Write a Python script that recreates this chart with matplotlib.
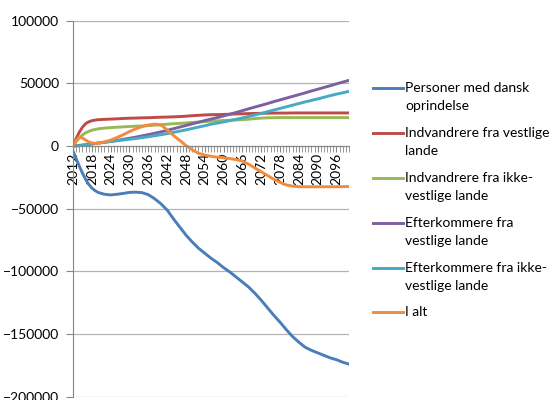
import matplotlib
matplotlib.use("Agg")
import matplotlib.pyplot as plt
from matplotlib.lines import Line2D
from matplotlib.ticker import MultipleLocator, FixedLocator

plt.rcParams['font.family'] = ['Lato', 'DejaVu Sans']

years = list(range(2012, 2021)) + list(range(2022, 2101, 2))

dansk = [-4000, -10000, -16000, -21500, -26500, -30500, -33500, -35500, -37000,
         -38500, -39000, -38500, -37800, -37000, -36800, -37200, -38800, -42000, -46000,
         -51000, -58000, -64500, -71000, -76500, -81500, -85500, -89500, -93000, -97000,
         -100500, -104500, -108500, -112500, -117500, -123000, -129000, -135000, -140500, -146500,
         -152000, -156500, -160500, -163000, -165000, -167000, -169000, -170500, -172500, -174000]

indv_vest = [0, 6000, 11000, 15000, 17800, 19300, 20200, 20700, 21000,
             21300, 21500, 21700, 22000, 22200, 22300, 22500, 22600, 22800, 23000,
             23100, 23300, 23500, 23800, 24200, 24500, 24800, 25000, 25100, 25200,
             25400, 25600, 25700, 25900, 26000, 26100, 26200, 26300, 26300, 26300,
             26400, 26400, 26400, 26400, 26400, 26400, 26400, 26400, 26400, 26400]

indv_ikke = [0, 3500, 6500, 8800, 10500, 11700, 12600, 13200, 13700,
             14300, 14700, 15000, 15300, 15600, 15800, 16000, 16300, 16700, 17000,
             17400, 17800, 18100, 18400, 18800, 19100, 19500, 19800, 20100, 20400,
             20600, 20800, 21000, 21400, 21900, 22300, 22500, 22600, 22700, 22700,
             22700, 22700, 22700, 22700, 22700, 22700, 22700, 22700, 22700, 22700]

efter_vest = [0, 200, 500, 800, 1100, 1400, 1700, 2000, 2300,
              3000, 3700, 4500, 5300, 6200, 7100, 8100, 9100, 10200, 11300,
              12500, 13800, 15100, 16400, 17700, 19000, 20300, 21500, 22700, 24000,
              25400, 26800, 28200, 29700, 31100, 32500, 33900, 35400, 36800, 38200,
              39600, 41000, 42400, 43900, 45300, 46700, 48100, 49600, 51000, 52400]

efter_ikke = [0, 100, 300, 500, 800, 1100, 1500, 2000, 2400,
              3000, 3600, 4200, 4800, 5400, 6000, 6700, 7400, 8200, 9000,
              9900, 10900, 11900, 12900, 14000, 15100, 16200, 17400, 18300, 19200,
              20300, 21300, 22400, 23600, 24800, 26000, 27400, 28700, 30000, 31300,
              32600, 33900, 35200, 36400, 37600, 38900, 40200, 41400, 42500, 43600]

i_alt = [0, 4500, 7000, 6500, 4800, 3300, 2500, 2100, 2200,
         3200, 4700, 6800, 9000, 11500, 13700, 15500, 16800, 17500, 16800,
         13000, 8500, 4500, 500, -3000, -5800, -7200, -8200, -8900, -9400,
         -10000, -10800, -12000, -14500, -17500, -20500, -23500, -26500, -29000, -31000,
         -32000, -32500, -32500, -32500, -32500, -32500, -32500, -32500, -32400, -32300]

series = [
    (dansk, "#4A7EBB", ["Personer med dansk", "oprindelse"]),
    (indv_vest, "#BE4B48", ["Indvandrere fra vestlige", "lande"]),
    (indv_ikke, "#98B954", ["Indvandrere fra ikke-", "vestlige lande"]),
    (efter_vest, "#7D60A0", ["Efterkommere fra", "vestlige lande"]),
    (efter_ikke, "#46AAC5", ["Efterkommere fra ikke-", "vestlige lande"]),
    (i_alt, "#F08C3C", ["I alt"]),
]

W, H = 551, 400
fig = plt.figure(figsize=(W / 100, H / 100), dpi=100)
ax = fig.add_axes([73 / W, 1 - 396.7 / H, (349 - 73) / W, (396.7 - 20.7) / H])

for vals, col, lab in series:
    ax.plot(years, vals, color=col, lw=2.1, solid_joinstyle='round')

axis_col = "#868686"
ax.set_xlim(2012, 2100)
ax.set_ylim(-200000, 100000)
ax.yaxis.set_major_locator(MultipleLocator(50000))
ax.grid(axis='y', color="#B3B3B3", lw=0.9)
ax.set_axisbelow(True)

ax.spines['top'].set_visible(False)
ax.spines['right'].set_visible(False)
ax.spines['left'].set_color(axis_col)
ax.spines['bottom'].set_color(axis_col)
ax.spines['bottom'].set_position(('data', 0))

ax.xaxis.set_major_locator(FixedLocator(list(range(2012, 2097, 6))))
ax.xaxis.set_minor_locator(MultipleLocator(1))
ax.tick_params(axis='x', which='both', direction='out', length=4, color=axis_col,
               pad=1, labelsize=10, labelrotation=90)
ax.tick_params(axis='y', direction='out', length=5, color=axis_col, pad=5, labelsize=10)
for t in ax.get_xticklabels():
    t.set_va('top')

# legend drawn by hand so the key sits on the first text line
for i, (vals, col, lab) in enumerate(series):
    y0 = 88.3 + 44.8 * i
    fig.add_artist(Line2D([372.7 / W, 402.7 / W], [1 - y0 / H] * 2, color=col, lw=2.1,
                          transform=fig.transFigure))
    for j, line in enumerate(lab):
        fig.text(405 / W, 1 - (y0 + 18 * j) / H, line, fontsize=10, va='center', ha='left')

fig.savefig("out.png", dpi=100)
